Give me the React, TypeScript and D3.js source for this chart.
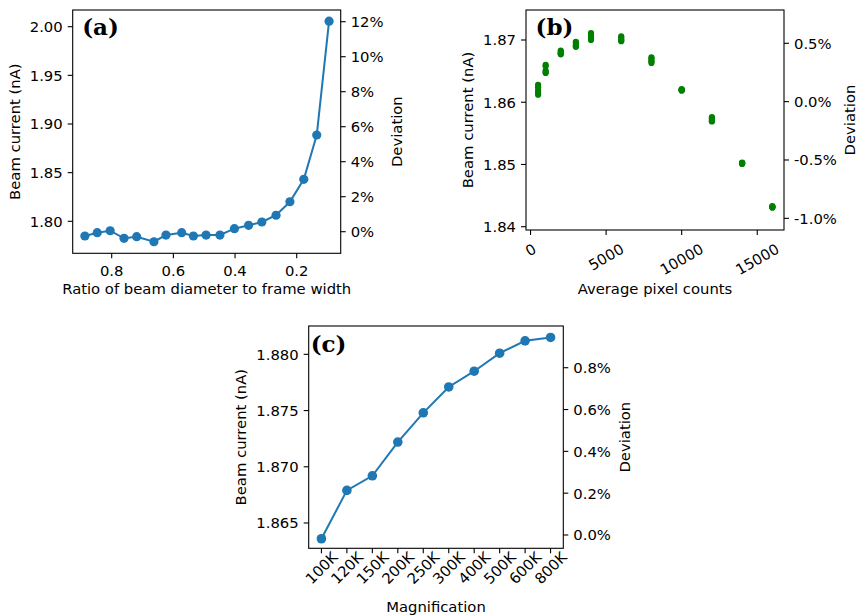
import React from 'react';
import * as d3 from 'd3';

// ---------- Panel (a) data ----------
const ratioValues = [0.887, 0.847, 0.805, 0.760, 0.719, 0.663, 0.624, 0.573, 0.535, 0.494, 0.449, 0.402, 0.356, 0.313, 0.267, 0.222, 0.177, 0.135, 0.095];
const ratioCurrents = [1.7849, 1.7883, 1.7903, 1.7825, 1.7842, 1.7790, 1.7859, 1.7883, 1.7849, 1.7859, 1.7859, 1.7924, 1.7959, 1.7993, 1.8062, 1.8201, 1.8431, 1.8887, 2.0057];
const ratioTicks = [0.8, 0.6, 0.4, 0.2];
const ratioCurrentTicks = [1.80, 1.85, 1.90, 1.95, 2.00];
const ratioDeviationTicks = [0, 2, 4, 6, 8, 10, 12];

// ---------- Panel (b) data ----------
const pixelCounts = [500, 1000, 2000, 3000, 4000, 6000, 8000, 10000, 12000, 14000, 16000];
const countRun1 = [1.8628, 1.8660, 1.8683, 1.8697, 1.8711, 1.8706, 1.8672, 1.8621, 1.8576, 1.8503, 1.8433];
const countRun2 = [1.8624, 1.8658, 1.8681, 1.8695, 1.8708, 1.8704, 1.8670, 1.8620, 1.8574, 1.8502, 1.8432];
const countRun3 = [1.8619, 1.8651, 1.8679, 1.8692, 1.8705, 1.8701, 1.8667, 1.8620, 1.8572, 1.8502, 1.8432];
const countRun4 = [1.8615, 1.8648, 1.8678, 1.8690, 1.8702, 1.8699, 1.8665, 1.8619, 1.8570, 1.8501, 1.8431];
const countRun5 = [1.8612, 1.8647, 1.8677, 1.8689, 1.8700, 1.8698, 1.8663, 1.8619, 1.8569, 1.8501, 1.8431];
const countTicks = [0, 5000, 10000, 15000];
const countCurrentTicks = [1.84, 1.85, 1.86, 1.87];
const countDeviationTicks = [-1.0, -0.5, 0.0, 0.5];

// ---------- Panel (c) data ----------
const magnifications = ['100K', '120K', '150K', '200K', '250K', '300K', '400K', '500K', '600K', '800K'];
const magCurrents = [1.8636, 1.8679, 1.8692, 1.8722, 1.8748, 1.8771, 1.8785, 1.8801, 1.8812, 1.8815];
const magCurrentTicks = [1.865, 1.870, 1.875, 1.880];
const magDeviationTicks = [0, 0.2, 0.4, 0.6, 0.8];

const BLUE = '#1f77b4';
const GREEN = '#008000';
const FONT = "'DejaVu Sans', sans-serif";
const FS = 14.8;
const TICK = 5;
const PAD = 5;
const SW = 1.1;

type Box = { left: number; right: number; top: number; bottom: number };

function Frame({ box }: { box: Box }) {
  return (
    <rect x={box.left} y={box.top} width={box.right - box.left} height={box.bottom - box.top}
      fill="none" stroke="#000" strokeWidth={SW} />
  );
}

function LeftAxis({ box, scale, ticks, fmt }: { box: Box; scale: any; ticks: number[]; fmt: (v: number) => string }) {
  return (
    <g>
      {ticks.map((t) => {
        const y = scale(t);
        return (
          <g key={t}>
            <line x1={box.left - TICK} x2={box.left} y1={y} y2={y} stroke="#000" strokeWidth={SW} />
            <text x={box.left - TICK - PAD} y={y} dy="0.36em" textAnchor="end" fontFamily={FONT} fontSize={FS} fill="#000">{fmt(t)}</text>
          </g>
        );
      })}
    </g>
  );
}

function RightAxis({ box, scale, ticks, fmt }: { box: Box; scale: any; ticks: number[]; fmt: (v: number) => string }) {
  return (
    <g>
      {ticks.map((t) => {
        const y = scale(t);
        return (
          <g key={t}>
            <line x1={box.right} x2={box.right + TICK} y1={y} y2={y} stroke="#000" strokeWidth={SW} />
            <text x={box.right + TICK + PAD} y={y} dy="0.36em" textAnchor="start" fontFamily={FONT} fontSize={FS} fill="#000">{fmt(t)}</text>
          </g>
        );
      })}
    </g>
  );
}

function YTitle({ x, y, text }: { x: number; y: number; text: string }) {
  return (
    <text transform={`translate(${x},${y}) rotate(-90)`} textAnchor="middle" fontFamily={FONT} fontSize={FS} fill="#000">{text}</text>
  );
}

function XTitle({ x, y, text }: { x: number; y: number; text: string }) {
  return <text x={x} y={y} textAnchor="middle" fontFamily={FONT} fontSize={FS} fill="#000">{text}</text>;
}

function PanelLabel({ x, y, text }: { x: number; y: number; text: string }) {
  return <text x={x} y={y} fontFamily="'DejaVu Serif', serif" fontWeight="bold" fontSize={23} fill="#000">{text}</text>;
}

function PanelA() {
  const box: Box = { left: 72.7, right: 340.7, top: 10, bottom: 253.3 };
  const x = d3.scaleLinear().domain([0.9265, 0.0573]).range([box.left, box.right]);
  const y = d3.scaleLinear().domain([1.76712, 2.01716]).range([box.bottom, box.top]);
  const dev = d3.scaleLinear().domain([-1.234, 12.669]).range([box.bottom, box.top]);
  const pts = ratioValues.map((r, i) => [r, ratioCurrents[i]] as [number, number]);
  const line = d3.line<[number, number]>().x((d) => x(d[0])).y((d) => y(d[1]));
  return (
    <g>
      <path d={line(pts) || ''} fill="none" stroke={BLUE} strokeWidth={2} />
      {pts.map((d, i) => <circle key={i} cx={x(d[0])} cy={y(d[1])} r={4.6} fill={BLUE} />)}
      <Frame box={box} />
      <LeftAxis box={box} scale={y} ticks={ratioCurrentTicks} fmt={(v) => v.toFixed(2)} />
      <RightAxis box={box} scale={dev} ticks={ratioDeviationTicks} fmt={(v) => `${v.toFixed(0)}%`} />
      {ratioTicks.map((t) => (
        <g key={t}>
          <line x1={x(t)} x2={x(t)} y1={box.bottom} y2={box.bottom + TICK} stroke="#000" strokeWidth={SW} />
          <text x={x(t)} y={box.bottom + 22.4} textAnchor="middle" fontFamily={FONT} fontSize={FS} fill="#000">{t.toFixed(1)}</text>
        </g>
      ))}
      <XTitle x={(box.left + box.right) / 2} y={294.3} text="Ratio of beam diameter to frame width" />
      <YTitle x={19.5} y={(box.top + box.bottom) / 2} text="Beam current (nA)" />
      <YTitle x={402.3} y={(box.top + box.bottom) / 2} text="Deviation" />
      <PanelLabel x={box.left + 9.5} y={box.top + 25} text="(a)" />
    </g>
  );
}

function PanelB() {
  const box: Box = { left: 526, right: 784, top: 10, bottom: 230 };
  const x = d3.scaleLinear().domain([-300, 16770]).range([box.left, box.right]);
  const y = d3.scaleLinear().domain([1.83947, 1.87482]).range([box.bottom, box.top]);
  const dev = d3.scaleLinear().domain([-1.1, 0.7853]).range([box.bottom, box.top]);
  const runs = [countRun1, countRun2, countRun3, countRun4, countRun5];
  const fs = FS;
  return (
    <g>
      {runs.map((run, k) => run.map((v, i) => (
        <circle key={`${k}-${i}`} cx={x(pixelCounts[i])} cy={y(v)} r={3.1} fill={GREEN} />
      )))}
      <Frame box={box} />
      <LeftAxis box={box} scale={y} ticks={countCurrentTicks} fmt={(v) => v.toFixed(2)} />
      <RightAxis box={box} scale={dev} ticks={countDeviationTicks} fmt={(v) => `${v.toFixed(1)}%`} />
      {countTicks.map((t) => {
        const label = String(t);
        const w = label.length * 0.636 * fs;
        const h = fs * 1.16;
        const rad = Math.PI / 6;
        const bh = w * Math.sin(rad) + h * Math.cos(rad);
        const cy = box.bottom + TICK + PAD + bh / 2;
        return (
          <g key={t}>
            <line x1={x(t)} x2={x(t)} y1={box.bottom} y2={box.bottom + TICK} stroke="#000" strokeWidth={SW} />
            <text transform={`translate(${x(t)},${cy}) rotate(-30)`} textAnchor="middle" dy="0.36em" fontFamily={FONT} fontSize={fs} fill="#000">{label}</text>
          </g>
        );
      })}
      <XTitle x={(box.left + box.right) / 2} y={294.3} text="Average pixel counts" />
      <YTitle x={472.5} y={(box.top + box.bottom) / 2} text="Beam current (nA)" />
      <YTitle x={855} y={(box.top + box.bottom) / 2} text="Deviation" />
      <PanelLabel x={box.left + 9.5} y={box.top + 25} text="(b)" />
    </g>
  );
}

function PanelC() {
  const box: Box = { left: 308.7, right: 563.3, top: 326, bottom: 548.3 };
  const x = d3.scalePoint<string>().domain(magnifications).range([box.left, box.right]).padding(0.5);
  const y = d3.scaleLinear().domain([1.86275, 1.88252]).range([box.bottom, box.top]);
  const dev = d3.scaleLinear().domain([-0.0636, 0.9995]).range([box.bottom, box.top]);
  const pts = magnifications.map((m, i) => [m, magCurrents[i]] as [string, number]);
  const line = d3.line<[string, number]>().x((d) => x(d[0]) as number).y((d) => y(d[1]));
  return (
    <g>
      <path d={line(pts) || ''} fill="none" stroke={BLUE} strokeWidth={2} />
      {pts.map((d, i) => <circle key={i} cx={x(d[0]) as number} cy={y(d[1])} r={4.8} fill={BLUE} />)}
      <Frame box={box} />
      <LeftAxis box={box} scale={y} ticks={magCurrentTicks} fmt={(v) => v.toFixed(3)} />
      <RightAxis box={box} scale={dev} ticks={magDeviationTicks} fmt={(v) => `${v.toFixed(1)}%`} />
      {magnifications.map((m) => {
        const px = x(m) as number;
        return (
          <g key={m}>
            <line x1={px} x2={px} y1={box.bottom} y2={box.bottom + TICK} stroke="#000" strokeWidth={SW} />
            <text transform={`translate(${px},${box.bottom + 19.5}) rotate(-45)`} textAnchor="middle" dy="0.36em" fontFamily={FONT} fontSize={FS} fill="#000">{m}</text>
          </g>
        );
      })}
      <XTitle x={(box.left + box.right) / 2} y={612.3} text="Magnification" />
      <YTitle x={245.5} y={(box.top + box.bottom) / 2} text="Beam current (nA)" />
      <YTitle x={630} y={(box.top + box.bottom) / 2} text="Deviation" />
      <PanelLabel x={box.left + 2} y={box.top + 25.5} text="(c)" />
    </g>
  );
}

export default function App() {
  return (
    <div style={{ position: 'absolute', left: 0, top: 0 }}>
      <svg width={857} height={615} viewBox="0 0 857 615" style={{ display: 'block', background: '#fff' }}>
        <rect x={0} y={0} width={857} height={615} fill="#fff" />
        <PanelA />
        <PanelB />
        <PanelC />
      </svg>
    </div>
  );
}
